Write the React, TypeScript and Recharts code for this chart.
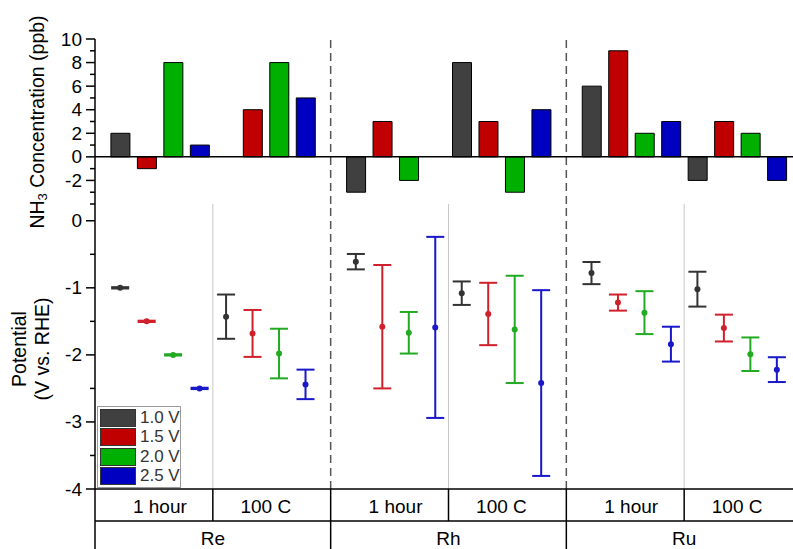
import { ComposedChart, Bar, Cell, Scatter, ErrorBar, XAxis, YAxis, ReferenceLine } from "recharts";

const metals = ["Re", "Rh", "Ru"];
const conditions = ["1 hour", "100 C"];
const voltages = ["1.0 V", "1.5 V", "2.0 V", "2.5 V"];

// groups: Re 1 hour, Re 100 C, Rh 1 hour, Rh 100 C, Ru 1 hour, Ru 100 C
const nh3_10 = [2, null, -3, 8, 6, -2];
const nh3_15 = [-1, 4, 3, 3, 9, 3];
const nh3_20 = [8, 8, -2, -3, 2, 2];
const nh3_25 = [1, 5, null, 4, 3, -2];

const pot_10 = [-1.0, -1.43, -0.61, -1.08, -0.78, -1.02];
const pot_15 = [-1.5, -1.68, -1.58, -1.39, -1.22, -1.6];
const pot_20 = [-2.0, -1.98, -1.67, -1.62, -1.37, -1.99];
const pot_25 = [-2.5, -2.44, -1.59, -2.42, -1.84, -2.22];

const err_10 = [0.01, 0.33, 0.115, 0.175, 0.165, 0.26];
const err_15 = [0.01, 0.35, 0.92, 0.465, 0.12, 0.2];
const err_20 = [0.01, 0.37, 0.31, 0.8, 0.32, 0.25];
const err_25 = [0.01, 0.22, 1.35, 1.385, 0.26, 0.185];

const nh3Ticks = [-4, -3, -2, -1, 0, 1, 2, 3, 4, 5, 6, 7, 8, 9, 10];
const potTicks = [-4, -3.5, -3, -2.5, -2, -1.5, -1, -0.5, 0];

const barColors = ["#404040", "#c00000", "#00b000", "#0000c0"];
const pointColors = ["#333333", "#d0202c", "#22aa22", "#1818c8"];

// layout of the x slots
const METAL_STEP = 8.9;
const SUB_STEP = 4;
const X_MIN = -0.95;
const X_MAX = 2 * METAL_STEP + 7.95;
const slot = (g: number, v: number) => Math.floor(g / 2) * METAL_STEP + (g % 2) * SUB_STEP + v;

const nh3 = [nh3_10, nh3_15, nh3_20, nh3_25];
const pot = [pot_10, pot_15, pot_20, pot_25];
const errs = [err_10, err_15, err_20, err_25];

const barRows: { x: number; nh3: number; v: number }[] = [];
for (let g = 0; g < 6; g++) {
  for (let v = 0; v < 4; v++) {
    const val = nh3[v][g];
    if (val !== null) barRows.push({ x: slot(g, v), nh3: val, v });
  }
}

const potSeries = voltages.map((_, v) =>
  pot[v].map((y, g) => ({ x: slot(g, v), y, err: errs[v][g] }))
);

const subCenters = [0, 1, 2, 3, 4, 5].map((g) => slot(g, 0) + 1.5);
const subLabels = [0, 1, 2, 3, 4, 5].map((g) => conditions[g % 2]);
const subBounds = [0, 1, 2].map((m) => m * METAL_STEP + 3.5);
const metalCenters = [0, 1, 2].map((m) => m * METAL_STEP + 3.5);
const metalBounds = [1, 2].map((m) => m * METAL_STEP - 0.95);

const FONT = "'Liberation Sans', Arial, sans-serif";
const W = 830;
const AXIS_W = 60;
const ROW_H = 32;

const makeTick = (isMajor: (v: number) => boolean) => (props: any) => {
  const { x, y, payload } = props;
  const major = isMajor(payload.value);
  return (
    <g>
      <line x1={x - (major ? 9 : 5)} x2={x} y1={y} y2={y} stroke="#000" strokeWidth={1.5} />
      {major && (
        <text x={x - 13} y={y} textAnchor="end" dominantBaseline="central" fontSize={19} fill="#000">
          {String(payload.value)}
        </text>
      )}
    </g>
  );
};

// category row tick: label at centres, a cell border at boundaries
const makeCatTick = (centers: number[], labels: string[]) => (props: any) => {
  const { x, y, payload } = props;
  const i = centers.indexOf(payload.value);
  if (i >= 0) {
    return (
      <text x={x} y={y + 24} textAnchor="middle" fontSize={19} fill="#000">
        {labels[i]}
      </text>
    );
  }
  return <line x1={x} x2={x} y1={y} y2={y + ROW_H} stroke="#000" strokeWidth={1.5} />;
};

const TopTitle = () => (
  <text
    x={37}
    y={122}
    transform="rotate(-90, 37, 122)"
    textAnchor="middle"
    dominantBaseline="central"
    fontSize={19.5}
    fill="#000"
  >
    <tspan>NH</tspan>
    <tspan fontSize={13} dy={5}>3</tspan>
    <tspan dy={-5}> Concentration (ppb)</tspan>
  </text>
);

const BottomTitle = () => (
  <g fontSize={19.5} fill="#000">
    <text x={19} y={155} transform="rotate(-90, 19, 155)" textAnchor="middle" dominantBaseline="central">
      Potential
    </text>
    <text x={42} y={155} transform="rotate(-90, 42, 155)" textAnchor="middle" dominantBaseline="central">
      (V vs. RHE)
    </text>
  </g>
);

export default function App() {
  return (
    <div style={{ position: "relative", width: 793, height: 549, overflow: "hidden", background: "#fff", fontFamily: FONT }}>
      <style>{"body{margin:0}"}</style>
      <div style={{ position: "absolute", left: 0, top: 0 }}>
        <ComposedChart width={W} height={245} data={barRows} margin={{ top: 39, right: 28, bottom: 41, left: 95 - AXIS_W }}>
          <XAxis xAxisId="b" type="number" dataKey="x" domain={[X_MIN, X_MAX]} allowDataOverflow tick={false} tickLine={false} height={0} axisLine={{ stroke: "#000", strokeWidth: 1.5 }} />
          <XAxis xAxisId="t" orientation="top" type="number" dataKey="x" domain={[X_MIN, X_MAX]} allowDataOverflow tick={false} tickLine={false} height={0} axisLine={{ stroke: "#000", strokeWidth: 1.5 }} />
          <YAxis
            type="number"
            domain={[-4, 10]}
            ticks={nh3Ticks}
            interval={0}
            width={AXIS_W}
            tickSize={0}
            tickMargin={0}
            tickLine={false}
            axisLine={{ stroke: "#000", strokeWidth: 1.5 }}
            tick={makeTick((v) => v % 2 === 0 && v > -4)}
            label={{ content: () => <TopTitle /> }}
          />
          {metalBounds.map((b) => (
            <ReferenceLine key={b} xAxisId="b" x={b} stroke="#555" strokeWidth={1.5} strokeDasharray="8 5" />
          ))}
          <ReferenceLine xAxisId="b" y={0} stroke="#000" strokeWidth={1.5} />
          <Bar xAxisId="b" dataKey="nh3" barSize={19} stroke="#000" strokeWidth={1} isAnimationActive={false}>
            {barRows.map((r, i) => (
              <Cell key={i} fill={barColors[r.v]} />
            ))}
          </Bar>
        </ComposedChart>
      </div>

      <div style={{ position: "absolute", left: 0, top: 194 }}>
        <ComposedChart width={W} height={365} margin={{ top: 10, right: 28, bottom: 6, left: 95 - AXIS_W }}>
          <XAxis
            xAxisId="b"
            type="number"
            dataKey="x"
            domain={[X_MIN, X_MAX]}
            allowDataOverflow
            ticks={[...metalCenters, X_MIN, ...metalBounds]}
            interval={0}
            tickLine={false}
            tickSize={0}
            tickMargin={0}
            height={ROW_H}
            axisLine={{ stroke: "#000", strokeWidth: 1.5 }}
            tick={makeCatTick(metalCenters, metals)}
          />
          <XAxis
            xAxisId="a"
            type="number"
            dataKey="x"
            domain={[X_MIN, X_MAX]}
            allowDataOverflow
            ticks={[...subCenters, X_MIN, ...subBounds, ...metalBounds]}
            interval={0}
            tickLine={false}
            tickSize={0}
            tickMargin={0}
            height={ROW_H}
            axisLine={{ stroke: "#000", strokeWidth: 1.5 }}
            tick={makeCatTick(subCenters, subLabels)}
          />
          <YAxis
            type="number"
            domain={[-4, 0.25]}
            allowDataOverflow
            ticks={potTicks}
            interval={0}
            width={AXIS_W}
            tickSize={0}
            tickMargin={0}
            tickLine={false}
            axisLine={{ stroke: "#000", strokeWidth: 1.5 }}
            tick={makeTick((v) => Number.isInteger(v))}
            label={{ content: () => <BottomTitle /> }}
          />
          {subBounds.map((b) => (
            <ReferenceLine key={"g" + b} xAxisId="a" x={b} stroke="#c8c8c8" strokeWidth={1} />
          ))}
          {metalBounds.map((b) => (
            <ReferenceLine key={"d" + b} xAxisId="a" x={b} stroke="#555" strokeWidth={1.5} strokeDasharray="8 5" />
          ))}
          {potSeries.map((data, v) => (
            <Scatter
              key={voltages[v]}
              xAxisId="a"
              data={data}
              dataKey="y"
              isAnimationActive={false}
              shape={(p: any) => <circle cx={p.cx} cy={p.cy} r={3} fill={pointColors[v]} />}
            >
              <ErrorBar dataKey="err" direction="y" width={9} stroke={pointColors[v]} strokeWidth={2} />
            </Scatter>
          ))}
        </ComposedChart>
      </div>

      <div
        style={{
          position: "absolute",
          left: 97,
          top: 406,
          width: 82,
          border: "1px solid #9a9a9a",
          background: "#fff",
          padding: "1px 0",
        }}
      >
        {voltages.map((name, v) => (
          <div key={name} style={{ display: "flex", alignItems: "center", height: 19.5 }}>
            <div style={{ width: 34, height: 16, marginLeft: 2, background: barColors[v], border: "1px solid #333" }} />
            <span style={{ marginLeft: 4, fontSize: 17, color: "#333", lineHeight: "16px" }}>{name}</span>
          </div>
        ))}
      </div>
    </div>
  );
}
